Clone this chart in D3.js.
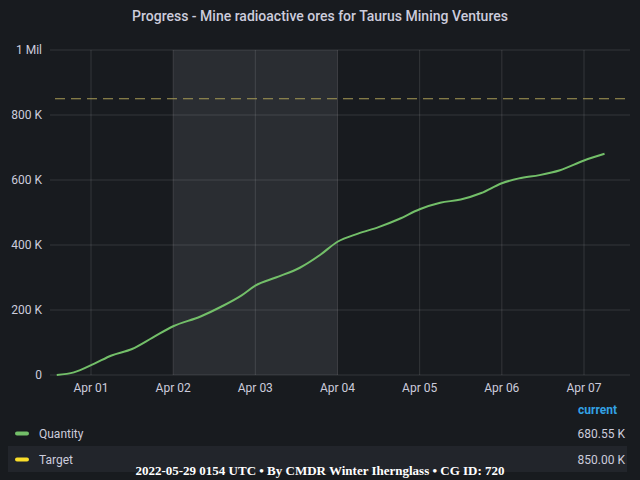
<!DOCTYPE html><html><head><meta charset="utf-8">
<script src="https://cdn.jsdelivr.net/npm/d3@7"></script>
<style>body{margin:0;background:#181b1f}</style></head><body>
<svg id="c" width="640" height="480"></svg>
<script>
const times=["2022-03-31T14:00","2022-03-31T19:00","2022-04-01T01:00","2022-04-01T06:00","2022-04-01T12:00","2022-04-01T18:00","2022-04-02T00:00","2022-04-02T08:00","2022-04-02T14:00","2022-04-02T20:00","2022-04-03T00:00","2022-04-03T06:00","2022-04-03T13:00","2022-04-03T19:00","2022-04-04T00:00","2022-04-04T06:00","2022-04-04T12:00","2022-04-04T18:00","2022-04-05T00:00","2022-04-05T06:00","2022-04-05T12:00","2022-04-05T18:00","2022-04-06T00:00","2022-04-06T05:00","2022-04-06T11:00","2022-04-06T17:00","2022-04-07T00:00","2022-04-07T06:00"];
const quantity=[0,8000,35000,60000,80000,115000,150000,180000,210000,245000,275000,300000,330000,370000,410000,435000,455000,480000,510000,530000,540000,560000,590000,605000,615000,630000,660000,680550];
const target=850000;
const yTicks=[0,200000,400000,600000,800000,1000000];
const yLabels=["0","200 K","400 K","600 K","800 K","1 Mil"];
const xTicks=["2022-04-01","2022-04-02","2022-04-03","2022-04-04","2022-04-05","2022-04-06","2022-04-07"];
const xLabels=["Apr 01","Apr 02","Apr 03","Apr 04","Apr 05","Apr 06","Apr 07"];
const shade=["2022-04-02","2022-04-04"];
const legend=[{name:"Quantity",value:"680.55 K",color:"#73bf69"},{name:"Target",value:"850.00 K",color:"#fade2a"}];

const p=d3.timeParse("%Y-%m-%dT%H:%M"), pd=d3.timeParse("%Y-%m-%d");
const svg=d3.select("#c"),font="Roboto, sans-serif";
const x=d3.scaleTime().domain([pd("2022-04-01"),pd("2022-04-07")]).range([91,584]);
const y=d3.scaleLinear().domain([0,1000000]).range([375,50]);
const L=50,R=630;
svg.append("text").attr("x",320).attr("y",21).attr("text-anchor","middle").attr("fill","#ccccdc").attr("font-family",font).attr("font-size",14).attr("font-weight",500).text("Progress - Mine radioactive ores for Taurus Mining Ventures");
svg.append("rect").attr("x",x(pd(shade[0]))).attr("y",50).attr("width",x(pd(shade[1]))-x(pd(shade[0]))).attr("height",325).attr("fill","#2a2d32");
const g=svg.append("g").attr("stroke","#ffffff").attr("stroke-opacity",0.12);
yTicks.forEach(t=>g.append("line").attr("x1",L).attr("x2",R).attr("y1",y(t)).attr("y2",y(t)));
xTicks.forEach(t=>g.append("line").attr("x1",x(pd(t))).attr("x2",x(pd(t))).attr("y1",50).attr("y2",375));
yTicks.forEach((t,i)=>svg.append("text").attr("x",42).attr("y",y(t)+4).attr("text-anchor","end").attr("fill","#ccccdc").attr("font-family",font).attr("font-size",12).text(yLabels[i]));
xTicks.forEach((t,i)=>svg.append("text").attr("x",x(pd(t))).attr("y",392).attr("text-anchor","middle").attr("fill","#ccccdc").attr("font-family",font).attr("font-size",12).text(xLabels[i]));
svg.append("line").attr("x1",55).attr("x2",R).attr("y1",y(target)).attr("y2",y(target)).attr("stroke","#a89c55").attr("stroke-width",1.2).attr("stroke-dasharray","10,6");
const line=d3.line().x((d,i)=>x(p(times[i]))).y(d=>y(d)).curve(d3.curveMonotoneX);
svg.append("path").attr("d",line(quantity)).attr("fill","none").attr("stroke","#73bf69").attr("stroke-width",2);
svg.append("text").attr("x",617).attr("y",414).attr("text-anchor","end").attr("fill","#33a2e5").attr("font-family",font).attr("font-size",12).attr("font-weight",700).text("current");
legend.forEach((d,i)=>{const yy=433+i*26;
 if(i==1)svg.append("rect").attr("x",8).attr("y",yy-13).attr("width",619).attr("height",26).attr("fill","#22252b");
 svg.append("rect").attr("x",15).attr("y",yy-1.5).attr("width",14).attr("height",4).attr("rx",2).attr("fill",d.color);
 svg.append("text").attr("x",39).attr("y",yy+5).attr("fill","#ccccdc").attr("font-family",font).attr("font-size",12).text(d.name);
 svg.append("text").attr("x",625).attr("y",yy+5).attr("text-anchor","end").attr("fill","#ccccdc").attr("font-family",font).attr("font-size",12).text(d.value);});
svg.append("text").attr("x",320).attr("y",475).attr("text-anchor","middle").attr("fill","#ffffff").attr("font-family","Liberation Serif, serif").attr("font-size",13).attr("font-weight",700).text("2022-05-29 0154 UTC • By CMDR Winter Ihernglass • CG ID: 720");
</script></body></html>
